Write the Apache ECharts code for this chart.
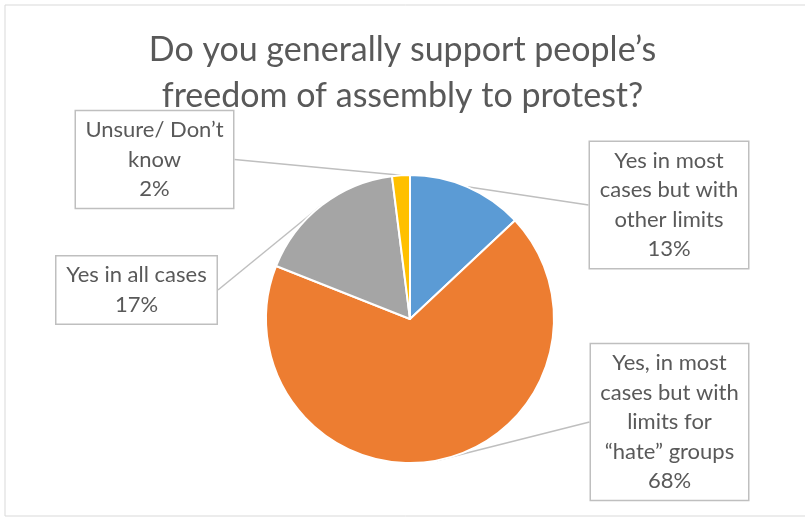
<!DOCTYPE html>
<html>
<head>
<meta charset="utf-8">
<script src="https://cdn.jsdelivr.net/npm/echarts@6/dist/echarts.min.js"></script>
<style>
html,body{margin:0;padding:0;background:#fff;}
#chart{width:805px;height:518px;}
</style>
</head>
<body>
<div id="chart"></div>
<script>
const title = "Do you generally support people\u2019s\nfreedom of assembly to protest?";
const categories = [
  "Yes in most\ncases but with\nother limits",
  "Yes, in most\ncases but with\nlimits for\n\u201chate\u201d groups",
  "Yes in all cases",
  "Unsure/ Don\u2019t\nknow"
];
const values = [13, 68, 17, 2];
const colors = ["#5B9BD5", "#ED7D31", "#A5A5A5", "#FFC000"];
const labelBoxes = [
  {cx: 669, cy: 205, w: 150},
  {cx: 669.5, cy: 422, w: 149},
  {cx: 136.5, cy: 290, w: 152},
  {cx: 154.5, cy: 159.5, w: 149}
];

const FONT = 'Lato';
const chart = echarts.init(document.getElementById('chart'), null, {renderer: 'canvas'});
chart.setOption({
  backgroundColor: '#fff',
  animation: false,
  graphic: [{
    type: 'rect',
    shape: {x: 5, y: 5, width: 810, height: 511},
    style: {fill: 'none', stroke: '#D9D9D9', lineWidth: 1},
    silent: true, z: -10
  }],
  title: {
    text: title,
    left: 'center',
    top: 22,
    textStyle: {fontFamily: FONT, fontSize: 34, fontWeight: 'normal', color: '#595959', lineHeight: 46}
  },
  series: [{
    type: 'pie',
    center: [410, 319],
    radius: 144,
    startAngle: 90,
    clockwise: true,
    itemStyle: {borderColor: '#fff', borderWidth: 2},
    label: {
      show: true,
      position: 'outside',
      formatter: p => p.name + '\n' + p.value + '%',
      fontFamily: FONT,
      fontSize: 22,
      lineHeight: 29.5,
      color: '#595959',
      align: 'center',
      backgroundColor: '#fff',
      borderColor: '#BFBFBF',
      borderWidth: 1.5,
      padding: [4, 4, 4, 4]
    },
    labelLine: {show: true, length: 0, length2: 0, lineStyle: {color: '#BFBFBF', width: 1.5}},
    labelLayout: function (params) {
      const b = labelBoxes[params.dataIndex];
      return {x: b.cx, y: b.cy, align: 'center', verticalAlign: 'middle'};
    },
    data: categories.map((c, i) => ({name: c, value: values[i], itemStyle: {color: colors[i]}, label: {width: labelBoxes[i].w}}))
  }]
});
</script>
</body>
</html>
